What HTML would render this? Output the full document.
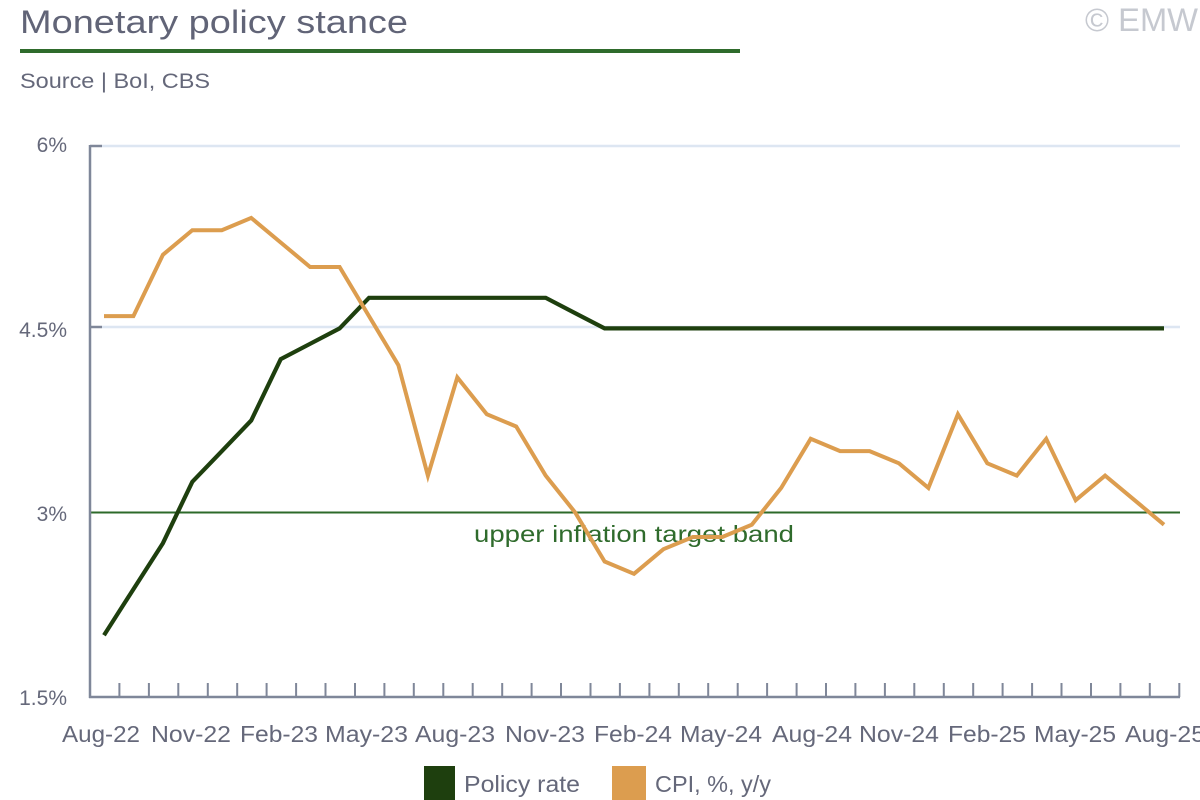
<!DOCTYPE html>
<html><head><meta charset="utf-8"><style>
html,body{margin:0;padding:0;background:#fff;}
svg{display:block;}
text{font-family:"Liberation Sans",Arial,sans-serif;}
</style></head><body>
<svg width="1200" height="800" viewBox="0 0 1200 800" xmlns="http://www.w3.org/2000/svg">
<rect width="1200" height="800" fill="#fff"/>
<!-- header -->
<text x="20" y="33" font-size="32" fill="#616477" textLength="388" lengthAdjust="spacingAndGlyphs">Monetary policy stance</text>
<rect x="20" y="49" width="720" height="4" fill="#2f6b2c"/>
<text x="20" y="88" font-size="21" fill="#65687a" textLength="190" lengthAdjust="spacingAndGlyphs">Source | BoI, CBS</text>
<text x="1085" y="31" font-size="32" fill="#c6c9d0" textLength="113" lengthAdjust="spacingAndGlyphs">© EMW</text>

<!-- gridlines -->
<line x1="102" y1="146" x2="1180" y2="146" stroke="#dde6f2" stroke-width="2.5"/>
<line x1="102" y1="327" x2="1180" y2="327" stroke="#dde6f2" stroke-width="2.5"/>
<line x1="90" y1="146" x2="102" y2="146" stroke="#7f8799" stroke-width="2.5"/>
<line x1="90" y1="327" x2="102" y2="327" stroke="#7f8799" stroke-width="2.5"/>
<line x1="90" y1="512.5" x2="1180" y2="512.5" stroke="#2d6a2a" stroke-width="2"/>

<!-- axes -->
<line x1="90" y1="145" x2="90" y2="698" stroke="#7f8799" stroke-width="2.5"/>
<line x1="89" y1="697" x2="1180" y2="697" stroke="#7f8799" stroke-width="2.5"/>
<g stroke="#7f8799" stroke-width="2">
<path d="M119.4 683V697M148.9 683V697M178.3 683V697M207.8 683V697M237.2 683V697M266.6 683V697M296.1 683V697M325.5 683V697M355 683V697M384.4 683V697M413.8 683V697M443.3 683V697M472.7 683V697M502.2 683V697M531.6 683V697M561 683V697M590.5 683V697M619.9 683V697M649.4 683V697M678.8 683V697M708.2 683V697M737.7 683V697M767.1 683V697M796.6 683V697M826 683V697M855.4 683V697M884.9 683V697M914.3 683V697M943.8 683V697M973.2 683V697M1002.6 683V697M1032.1 683V697M1061.5 683V697M1091 683V697M1120.4 683V697M1149.8 683V697M1179.3 683V697"/>
</g>

<!-- y labels -->
<g font-size="21" fill="#65687a" text-anchor="end">
<text x="67" y="152">6%</text>
<text x="67" y="337">4.5%</text>
<text x="67" y="521">3%</text>
<text x="67" y="705">1.5%</text>
</g>

<!-- x labels -->
<g font-size="23" fill="#65687a">
<text x="62" y="742" textLength="78" lengthAdjust="spacingAndGlyphs">Aug-22</text>
<text x="151" y="742" textLength="80" lengthAdjust="spacingAndGlyphs">Nov-22</text>
<text x="240" y="742" textLength="78" lengthAdjust="spacingAndGlyphs">Feb-23</text>
<text x="325" y="742" textLength="83" lengthAdjust="spacingAndGlyphs">May-23</text>
<text x="415" y="742" textLength="80" lengthAdjust="spacingAndGlyphs">Aug-23</text>
<text x="505" y="742" textLength="80" lengthAdjust="spacingAndGlyphs">Nov-23</text>
<text x="594" y="742" textLength="78" lengthAdjust="spacingAndGlyphs">Feb-24</text>
<text x="680" y="742" textLength="82" lengthAdjust="spacingAndGlyphs">May-24</text>
<text x="772" y="742" textLength="80" lengthAdjust="spacingAndGlyphs">Aug-24</text>
<text x="859" y="742" textLength="80" lengthAdjust="spacingAndGlyphs">Nov-24</text>
<text x="948" y="742" textLength="78" lengthAdjust="spacingAndGlyphs">Feb-25</text>
<text x="1034" y="742" textLength="82" lengthAdjust="spacingAndGlyphs">May-25</text>
<text x="1125" y="742" textLength="80" lengthAdjust="spacingAndGlyphs">Aug-25</text>
</g>

<!-- target band label -->
<text x="474" y="542" font-size="23" fill="#2f6b2c" textLength="320" lengthAdjust="spacingAndGlyphs">upper inflation target band</text>

<!-- policy rate -->
<polyline fill="none" stroke="#1e3f0e" stroke-width="4.2" stroke-linejoin="miter" points="104,635.2 133.4,589.2 162.9,543.2 192.3,481.8 221.8,451.2 251.2,420.5 280.7,359.2 310.1,343.8 339.6,328.4 369,297.8 398.4,297.8 427.9,297.8 457.3,297.8 486.8,297.8 516.2,297.8 545.7,297.8 575.1,313.1 604.6,328.4 634,328.4 663.4,328.4 692.9,328.4 722.3,328.4 751.8,328.4 781.2,328.4 810.7,328.4 840.1,328.4 869.6,328.4 899,328.4 928.4,328.4 957.9,328.4 987.3,328.4 1016.8,328.4 1046.2,328.4 1075.7,328.4 1105.1,328.4 1134.6,328.4 1164,328.4"/>

<!-- CPI -->
<polyline fill="none" stroke="#dc9d4f" stroke-width="4" stroke-linejoin="miter" points="104,316.1 133.4,316.1 162.9,254.8 192.3,230.2 221.8,230.2 251.2,217.9 280.7,242.5 310.1,267.0 339.6,267.0 369,316.1 398.4,365.2 427.9,475.6 457.3,377.4 486.8,414.2 516.2,426.5 545.7,475.6 575.1,512.4 604.6,561.5 634,573.8 663.4,549.2 692.9,537.0 722.3,537.0 751.8,524.7 781.2,487.9 810.7,438.8 840.1,451.1 869.6,451.1 899,463.3 928.4,487.9 957.9,414.2 987.3,463.3 1016.8,475.6 1046.2,438.8 1075.7,500.2 1105.1,475.6 1134.6,500.2 1164,524.7"/>

<!-- legend -->
<rect x="424" y="766" width="31" height="34" fill="#1e3f0e"/>
<text x="464" y="792" font-size="23" fill="#65687a" textLength="116" lengthAdjust="spacingAndGlyphs">Policy rate</text>
<rect x="612" y="766" width="34" height="34" fill="#dc9d4f"/>
<text x="655" y="792" font-size="23" fill="#65687a" textLength="116" lengthAdjust="spacingAndGlyphs">CPI, %, y/y</text>
</svg>
</body></html>
